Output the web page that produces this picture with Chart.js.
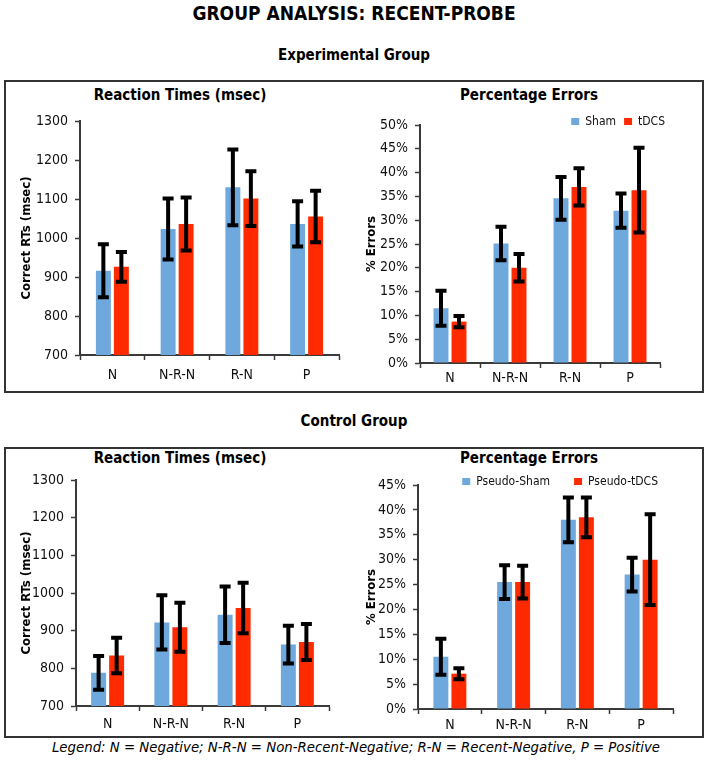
<!DOCTYPE html>
<html>
<head>
<meta charset="utf-8">
<script src="https://cdn.jsdelivr.net/npm/chart.js@4.4.0/dist/chart.umd.min.js"></script>
<style>
body { margin: 0; background: #fff; width: 708px; height: 760px; position: relative; overflow: hidden;
  font-family: "DejaVu Sans Condensed", "DejaVu Sans", sans-serif; color: #000; }
.t { position: absolute; left: 0; width: 708px; text-align: center; font-weight: bold; }
.ct { position: absolute; width: 300px; text-align: center; font-weight: bold; font-size: 15px; line-height: 18px; }
.box { position: absolute; border: 2px solid #333; }
canvas { position: absolute; }
.note { position: absolute; left: 0; width: 712px; text-align: center; font-style: italic; font-size: 14.8px; }
</style>
</head>
<body>
<div class="t" style="top:2px;font-size:19px">GROUP ANALYSIS: RECENT-PROBE</div>
<div class="t" style="top:46px;font-size:15px">Experimental Group</div>
<div class="box" style="left:4px;top:80px;width:696px;height:309px"></div>
<div class="t" style="top:412px;font-size:15px">Control Group</div>
<div class="box" style="left:4px;top:447px;width:696px;height:287px"></div>
<div class="note" style="top:738px">Legend: N = Negative; N-R-N = Non-Recent-Negative; R-N = Recent-Negative, P = Positive</div>

<div class="ct" style="left:30px;top:86px">Reaction Times (msec)</div>
<div class="ct" style="left:379px;top:86px">Percentage Errors</div>
<div class="ct" style="left:30px;top:449px">Reaction Times (msec)</div>
<div class="ct" style="left:379px;top:449px">Percentage Errors</div>

<canvas id="expRt" width="344" height="308" style="left:6px;top:82px"></canvas>
<canvas id="expErr" width="346" height="308" style="left:354px;top:82px"></canvas>
<canvas id="ctlRt" width="344" height="286" style="left:6px;top:449px"></canvas>
<canvas id="ctlErr" width="346" height="286" style="left:354px;top:449px"></canvas>

<script>
// categories and values (means and error bar half-lengths)
var categories = ['N', 'N-R-N', 'R-N', 'P'];

var expRtSham = [916, 1023, 1130, 1036];
var expRtShamErr = [68, 78, 97, 58];
var expRtTdcs = [926, 1036, 1101, 1055];
var expRtTdcsErr = [38, 68, 70, 66];

var expErrSham = [11.5, 25.1, 34.6, 32.0];
var expErrShamErr = [3.7, 3.5, 4.5, 3.6];
var expErrTdcs = [8.7, 20.0, 37.0, 36.3];
var expErrTdcsErr = [1.2, 2.9, 3.9, 8.9];

var ctlRtSham = [788, 922, 942, 863];
var ctlRtShamErr = [45, 72, 75, 50];
var ctlRtTdcs = [834, 909, 960, 870];
var ctlRtTdcsErr = [47, 65, 67, 48];

var ctlErrSham = [10.5, 25.5, 38.0, 27.0];
var ctlErrShamErr = [3.6, 3.4, 4.5, 3.4];
var ctlErrTdcs = [7.1, 25.5, 38.5, 30.0];
var ctlErrTdcsErr = [1.1, 3.3, 4.0, 9.1];

var expNames = ['Sham', 'tDCS'];
var ctlNames = ['Pseudo-Sham', 'Pseudo-tDCS'];

var shamColor = '#6ea8dc';
var tdcsColor = '#ff2a00';
var axisColor = '#3a3a3a';

Chart.defaults.font.family = '"DejaVu Sans Condensed", "DejaVu Sans", sans-serif';
Chart.defaults.color = '#111';

// black error bars with caps
var errorBars = {
    id: 'errorBars',
    afterDatasetsDraw: function(chart) {
        var ctx = chart.ctx, y = chart.scales.y;
        ctx.save();
        ctx.strokeStyle = '#000';
        ctx.lineWidth = 4;
        chart.data.datasets.forEach(function(ds, i) {
            chart.getDatasetMeta(i).data.forEach(function(bar, j) {
                var top = y.getPixelForValue(ds.data[j] + ds.errors[j]);
                var bot = y.getPixelForValue(ds.data[j] - ds.errors[j]);
                ctx.beginPath();
                ctx.moveTo(bar.x, top); ctx.lineTo(bar.x, bot);
                ctx.moveTo(bar.x - 5.5, top); ctx.lineTo(bar.x + 5.5, top);
                ctx.moveTo(bar.x - 5.5, bot); ctx.lineTo(bar.x + 5.5, bot);
                ctx.stroke();
            });
        });
        ctx.restore();
    }
};

// put the legend inside the plot, top right
var legendAt = {
    id: 'legendAt',
    afterLayout: function(chart, args, opts) {
        if (!opts || opts.right == null || !chart.legend) return;
        var lg = chart.legend;
        lg.left = chart.chartArea.left;
        lg.right = opts.right;
        lg.top = opts.top;
    }
};

function makeChart(id, c) {
    var ds = function(name, vals, errs, color) {
        return { label: name, data: vals, errors: errs, backgroundColor: color, borderWidth: 0,
                 categoryPercentage: c.cat, barPercentage: 0.83 };
    };
    return new Chart(document.getElementById(id), {
        type: 'bar',
        data: {
            labels: categories,
            datasets: [ds(c.names[0], c.sham, c.shamErr, shamColor), ds(c.names[1], c.tdcs, c.tdcsErr, tdcsColor)]
        },
        options: {
            responsive: false,
            animation: false,
            layout: { padding: { top: c.padTop, right: c.padRight } },
            plugins: {
                legend: c.legend ? {
                    display: true, position: 'top', align: 'end', maxHeight: 1,
                    labels: { boxWidth: 8, boxHeight: 8, padding: c.legend.padding, color: '#111', font: { size: 12 } }
                } : { display: false },
                legendAt: c.legend ? { right: c.legend.right, top: c.legend.top } : false,
                tooltip: { enabled: false }
            },
            scales: {
                x: {
                    grid: { offset: true, drawOnChartArea: false, drawTicks: true, tickLength: 5, tickColor: axisColor, tickWidth: 1.5 },
                    border: { color: axisColor, width: 2 },
                    ticks: { color: '#111', font: { size: 14 }, padding: c.xPad },
                    afterFit: function(s) { s.height = c.xHeight; }
                },
                y: {
                    min: c.min, max: c.max,
                    grid: { drawOnChartArea: false, drawTicks: true, tickLength: 5, tickColor: axisColor, tickWidth: 1.5 },
                    border: { color: axisColor, width: 2 },
                    ticks: { stepSize: c.step, color: '#111', font: { size: 14 }, padding: 7,
                             callback: function(v) { return c.pct ? v + '%' : v; } },
                    title: { display: true, text: c.yTitle, color: '#000', font: { size: 13, weight: 'bold' },
                             padding: { top: c.yTitlePad, bottom: 0 } },
                    afterFit: function(s) { s.width = c.yWidth; }
                }
            }
        },
        plugins: [errorBars, legendAt]
    });
}

makeChart('expRt', {
    yTitle: 'Correct RTs (msec)', names: expNames,
    sham: expRtSham, shamErr: expRtShamErr, tdcs: expRtTdcs, tdcsErr: expRtTdcsErr,
    min: 700, max: 1300, step: 100, pct: false,
    cat: 0.556, padTop: 39, padRight: 11, xPad: 7, xHeight: 35, yWidth: 74, yTitlePad: 13
});
makeChart('expErr', {
    yTitle: '% Errors', names: expNames,
    sham: expErrSham, shamErr: expErrShamErr, tdcs: expErrTdcs, tdcsErr: expErrTdcsErr,
    min: 0, max: 50, step: 5, pct: true,
    cat: 0.6, padTop: 42, padRight: 40, xPad: 2, xHeight: 27, yWidth: 66, yTitlePad: 10,
    legend: { padding: 8, right: 319, top: 26 }
});
makeChart('ctlRt', {
    yTitle: 'Correct RTs (msec)', names: ctlNames,
    sham: ctlRtSham, shamErr: ctlRtShamErr, tdcs: ctlRtTdcs, tdcsErr: ctlRtTdcsErr,
    min: 700, max: 1300, step: 100, pct: false,
    cat: 0.57, padTop: 31, padRight: 21, xPad: 4.5, xHeight: 29, yWidth: 70, yTitlePad: 13
});
makeChart('ctlErr', {
    yTitle: '% Errors', names: ctlNames,
    sham: ctlErrSham, shamErr: ctlErrShamErr, tdcs: ctlErrTdcs, tdcsErr: ctlErrTdcsErr,
    min: 0, max: 45, step: 5, pct: true,
    cat: 0.565, padTop: 35, padRight: 27, xPad: 3, xHeight: 26, yWidth: 64, yTitlePad: 10,
    legend: { padding: 24, right: 328, top: 3 }
});
</script>
</body>
</html>
